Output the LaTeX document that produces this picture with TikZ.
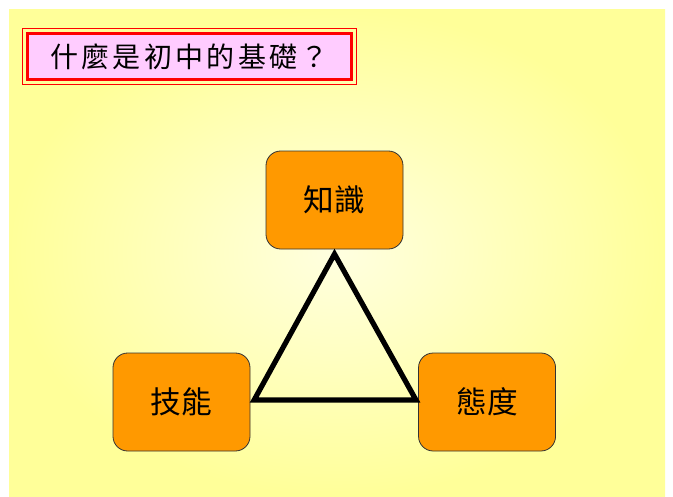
\documentclass[tikz,border=0pt]{standalone}
\usepackage{fontspec}
\newfontfamily\cjk{Noto Sans CJK TC}
\newfontfamily\cjktitle[LetterSpace=12]{Noto Sans CJK TC}
\usepackage{tikz}
\definecolor{paleyellow}{HTML}{FFFF99}
\definecolor{lightyellow}{HTML}{FFFFE0}
\definecolor{boxorange}{HTML}{FF9900}
\definecolor{titlepink}{HTML}{FFCCFF}
\tikzstyle{topic} = [rectangle,rounded corners=11pt,minimum width=102.75pt,minimum height=73.5pt,text centered,draw=black!80,line width=0.6pt,fill=boxorange,font=\cjk\fontsize{23}{26}\selectfont]
\tikzstyle{heading} = [rectangle,minimum width=243pt,minimum height=34.5pt,inner sep=0pt,draw=red,line width=2.25pt,fill=titlepink,font=\cjktitle\fontsize{21}{24}\selectfont]
\tikzstyle{tri} = [line width=3.9pt,black,line join=miter]

\begin{document}
\begin{tikzpicture}[x=0.75pt,y=-0.75pt,node distance=151.5pt]
\useasboundingbox (0,0) rectangle (673,496);
\fill[white] (0,0) rectangle (673,496);
\shade[inner color=lightyellow,outer color=paleyellow] (9,9) rectangle (665,496);

\node(title) [heading] at (189.5,56.5) {什麼是初中的基礎？};
\draw[red,line width=0.75pt] ([shift={(-2.6pt,2.6pt)}]title.north west) rectangle ([shift={(2.6pt,-2.6pt)}]title.south east);

\node(know) [topic] at (334.5,200) {知識};
\node(skill) [topic, below of=know, xshift=-114.75pt] {技能};
\node(attitude) [topic, below of=know, xshift=114.4pt] {態度};

\draw [tri] ([yshift=-3.5pt]know.south) -- ([xshift=2.8pt,yshift=1.5pt]skill.east) -- ([xshift=-1.6pt,yshift=1.5pt]attitude.west) -- cycle;

\end{tikzpicture}
\end{document}
